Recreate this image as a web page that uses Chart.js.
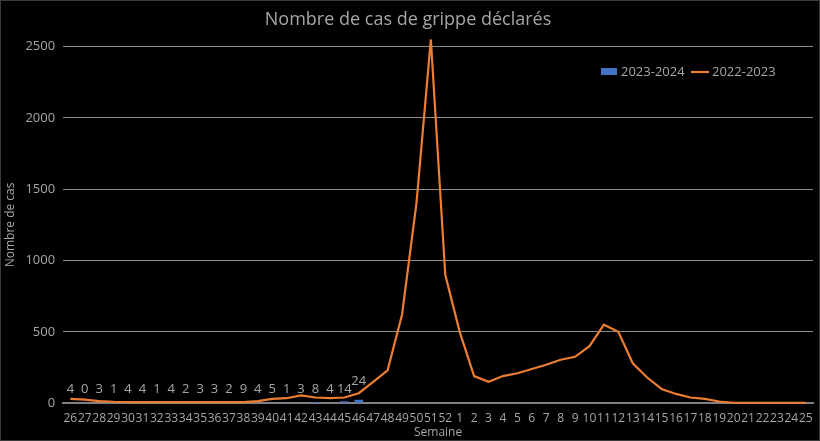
<!DOCTYPE html>
<html><head><meta charset="utf-8">
<script src="https://cdn.jsdelivr.net/npm/chart.js@4"></script>
<style>
html,body{margin:0;background:#000;}
#wrap{width:818px;height:439px;border:1px solid #3a3a3a;position:relative;}
</style></head><body>
<div id="wrap"><canvas id="c"></canvas></div>
<script>
const WEEKS = ['26','27','28','29','30','31','32','33','34','35','36','37','38','39','40','41','42','43','44','45','46','47','48','49','50','51','52',
  '1','2','3','4','5','6','7','8','9','10','11','12','13','14','15','16','17','18','19','20','21','22','23','24','25'];
const CASES_2324 = [4,0,3,1,4,4,1,4,2,3,3,2,9,4,5,1,3,8,4,14,24];
const CASES_2223 = [30,25,15,10,8,8,8,8,8,8,8,8,8,15,30,35,55,40,35,40,70,150,230,620,1400,2550,900,
  500,190,150,190,210,240,270,305,325,400,550,500,280,180,100,65,40,30,12,3,3,3,3,3,3];
const GRAY = '#a6a6a6';

const barLabels = {
  id: 'barLabels',
  afterDatasetsDraw(chart) {
    const ctx = chart.ctx, meta = chart.getDatasetMeta(0);
    const base = chart.scales.y.getPixelForValue(0);
    ctx.save();
    ctx.font = "13px 'Open Sans'"; ctx.fillStyle = GRAY; ctx.textAlign = 'center'; ctx.textBaseline = 'bottom';
    meta.data.forEach((el, i) => {
      const v = CASES_2324[i];
      if (v == null) return;
      const y = v > 20 ? el.y - 12 : base - 7;
      ctx.fillText(String(v), el.x, y);
    });
    ctx.restore();
  }
};

new Chart(document.getElementById('c'), {
  data: {
    labels: WEEKS,
    datasets: [
      { type: 'bar', label: '2023-2024', data: CASES_2324, backgroundColor: '#4472c4', barPercentage: 0.6, categoryPercentage: 1, order: 2 },
      { type: 'line', label: '2022-2023', data: CASES_2223, borderColor: '#ed7d31', backgroundColor: '#ed7d31', borderWidth: 2.2,
        pointRadius: 0, tension: 0, clip: false, order: 1 },
    ],
  },
  options: {
    responsive: true, maintainAspectRatio: false, animation: false,
    layout: { padding: { left: 2, right: 6, top: 2, bottom: 0 } },
    plugins: {
      title: { display: true, text: 'Nombre de cas de grippe déclarés', color: GRAY, font: { family: "'Open Sans'", size: 18, weight: 'normal' }, padding: { top: 6, bottom: 16 } },
      legend: { display: false },
      tooltip: { enabled: false },
    },
    scales: {
      x: {
        title: { display: true, text: 'Semaine', color: GRAY, font: { family: "'Open Sans'", size: 12 }, padding: 0 },
        ticks: { color: GRAY, font: { family: "'Open Sans'", size: 12 }, autoSkip: false, maxRotation: 0, padding: 0 },
        grid: { display: false },
        border: { color: '#808080', width: 2 },
      },
      y: {
        min: 0, max: 2500,
        title: { display: true, text: 'Nombre de cas', color: GRAY, font: { family: "'Open Sans'", size: 12 }, padding: 0 },
        ticks: { stepSize: 500, color: GRAY, font: { family: "'Open Sans'", size: 13 }, padding: 8, callback: v => String(v) },
        grid: { color: '#8c8c8c', drawTicks: false },
        border: { display: false },
      },
    },
  },
  plugins: [barLabels, {
    id: 'legendBox',
    afterDraw(chart) {
      const ctx = chart.ctx;
      ctx.save();
      ctx.font = "13px 'Open Sans'"; ctx.textBaseline = 'middle';
      ctx.fillStyle = '#4472c4'; ctx.fillRect(600, 67, 16, 7);
      ctx.fillStyle = GRAY; ctx.fillText('2023-2024', 620, 71);
      ctx.strokeStyle = '#ed7d31'; ctx.lineWidth = 2.2;
      ctx.beginPath(); ctx.moveTo(690, 71); ctx.lineTo(708, 71); ctx.stroke();
      ctx.fillText('2022-2023', 711, 71);
      ctx.restore();
    }
  }],
});
</script>
</body></html>
